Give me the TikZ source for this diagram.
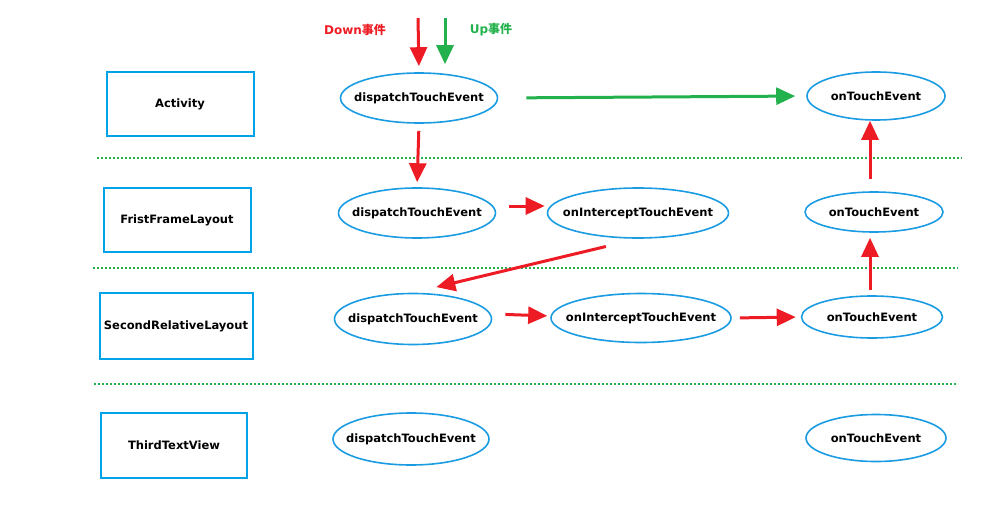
\documentclass[tikz,border=0pt]{standalone}
\usepackage{fontspec}
\setmainfont{DejaVu Sans}
\newfontfamily\cjk{Noto Sans CJK SC}
\usetikzlibrary{shapes.geometric,arrows.meta}
\definecolor{boxblue}{HTML}{00A2E8}
\definecolor{ellblue}{HTML}{1B9CE2}
\definecolor{evred}{HTML}{ED1C24}
\definecolor{evgreen}{HTML}{22B14C}
\begin{document}
\begin{tikzpicture}[x=1pt,y=-1pt]
        % Define styles for the layers, methods and arrows
        \tikzstyle{layer}=[draw=boxblue,line width=2pt,minimum width=147pt,minimum height=64pt,inner sep=0pt,font=\bfseries\fontsize{11.5}{13}\selectfont]
        \tikzstyle{method}=[ellipse,draw=ellblue,line width=1.6pt,minimum width=157pt,minimum height=50pt,inner xsep=-20pt,inner ysep=0pt,font=\bfseries\fontsize{11.5}{13}\selectfont]
        \tikzstyle{redarrow}=[draw=evred,line width=3pt,-{Triangle[length=19pt,width=17pt]},evred]
        \tikzstyle{greenarrow}=[draw=evgreen,line width=3pt,-{Triangle[length=19pt,width=17pt]},evgreen]
        \tikzstyle{divider}=[draw=evgreen,line width=2pt,dash pattern=on 2pt off 2pt]
        \useasboundingbox (0,0) rectangle (1000,505);

        % Draw the layers on the left
        \node[layer] (activity) at (180,104) {Activity};
        \node[layer] (frame) at (177,220) {FristFrameLayout};
        \node[layer,minimum width=153pt,minimum height=66pt] (relative) at (176,326) {SecondRelativeLayout};
        \node[layer,minimum width=146pt,minimum height=65pt] (text) at (174,445) {ThirdTextView};

        % Draw the dotted separators
        \draw[divider] (97,158) -- (962,158);
        \draw[divider] (93,268) -- (958,268);
        \draw[divider] (94,384) -- (958,384);

        % Draw the methods of each layer
        \node[method] (adisp) at (419,98) {dispatchTouchEvent};
        \node[method,minimum width=138pt,minimum height=48pt] (atouch) at (876,96) {onTouchEvent};
        \node[method] (fdisp) at (417,213) {dispatchTouchEvent};
        \node[method,minimum width=181pt] (fint) at (638,213) {onInterceptTouchEvent};
        \node[method,minimum width=138pt,minimum height=40pt] (ftouch) at (874,212) {onTouchEvent};
        \node[method,minimum width=157pt,minimum height=51pt] (sdisp) at (413,319) {dispatchTouchEvent};
        \node[method,minimum width=180pt,minimum height=49pt] (sint) at (641,318) {onInterceptTouchEvent};
        \node[method,minimum width=141pt,minimum height=42pt] (stouch) at (872,317) {onTouchEvent};
        \node[method,minimum width=156pt,minimum height=52pt] (tdisp) at (411,439) {dispatchTouchEvent};
        \node[method,minimum width=140pt,minimum height=47pt] (ttouch) at (876,438) {onTouchEvent};

        % Draw the incoming events
        \coordinate (downstart) at (418,18);
        \coordinate (upstart) at (445,18);
        \node[text=evred,font=\bfseries\fontsize{12}{14}\selectfont] (downlabel) at (355,30) {Down{\cjk 事件}};
        \node[text=evgreen,font=\bfseries\fontsize{12}{14}\selectfont] (uplabel) at (491,30) {Up{\cjk 事件}};
        \draw[redarrow,shorten >=6pt] (downstart) -- (adisp.north);
        \draw[greenarrow,shorten >=8pt] (upstart) -- ([xshift=26pt]adisp.north);

        % Connect the methods
        \draw[greenarrow,shorten <=28pt,shorten >=11pt] (adisp.east) -- (atouch.west);
        \draw[redarrow,shorten <=7pt,shorten >=5pt] (adisp.south) -- (fdisp.north);
        \draw[redarrow,shorten <=13pt,shorten >=2pt] ([yshift=7pt]fdisp.east) -- ([yshift=7pt]fint.west);
        \draw[redarrow,shorten <=33pt,shorten >=24pt] (fint.south) -- (sdisp.north);
        \draw[redarrow,shorten <=13pt,shorten >=3pt] ([yshift=5pt]sdisp.east) -- ([yshift=2pt]sint.west);
        \draw[redarrow,shorten <=8pt,shorten >=5pt] (sint.east) -- (stouch.west);
        \draw[redarrow,shorten <=5pt,shorten >=5pt] ([xshift=-2pt]stouch.north) -- ([xshift=-4pt]ftouch.south);
        \draw[redarrow,shorten <=12pt,shorten >=0pt] ([xshift=-4pt]ftouch.north) -- ([xshift=-6pt]atouch.south);
\end{tikzpicture}
\end{document}
